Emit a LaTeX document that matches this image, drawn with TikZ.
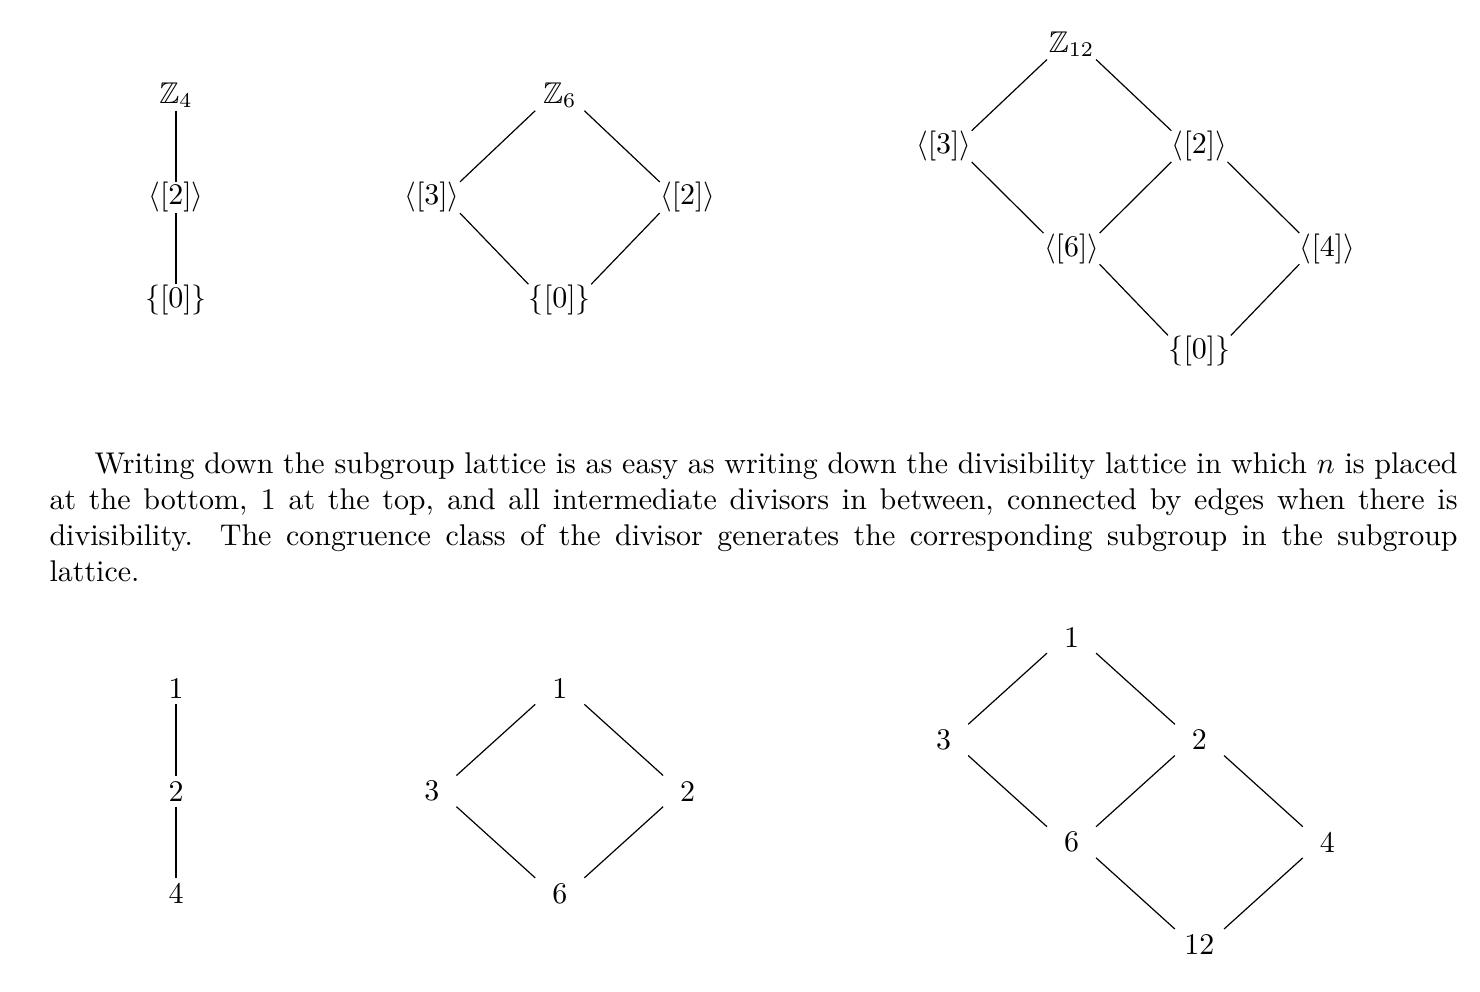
\documentclass[tikz,border=0pt]{standalone}
\usepackage{amsmath, amssymb}
\usepackage{tikz}
\usetikzlibrary{calc,positioning}

\begin{document}
\begin{tikzpicture}[x=1.5cm,y=1.2cm]

\tikzset{latnode/.style={inner sep=0pt,minimum width=16pt,minimum height=10pt},
textnode/.style={inner sep=0pt,text width=6.5in,align=justify}}

\useasboundingbox (-1.3758,1.9297) rectangle (10.193,-7.7626);

% Subgroup lattice of Z4
\node[latnode] (four) at (0,1) {$\mathbb{Z}_4$};
\node[latnode] (four2) at ($(four) + (0,-1)$) {$\langle[2]\rangle$};
\node[latnode] (four0) at ($(four2) + (0,-1)$) {$\{[0]\}$};
\draw (four.south) -- (four2.north);
\draw (four2.south) -- (four0.north);

% Subgroup lattice of Z6
\node[latnode] (six) at (3,1) {$\mathbb{Z}_6$};
\node[latnode] (six3) at ($(six) + (-1,-1)$) {$\langle[3]\rangle$};
\node[latnode] (six2) at ($(six) + (1,-1)$) {$\langle[2]\rangle$};
\node[latnode] (six0) at ($(six) + (0,-2)$) {$\{[0]\}$};
\foreach \a/\b in {six/six3,six2/six0} \draw (\a.south west) -- (\b.north east);
\foreach \a/\b in {six/six2,six3/six0} \draw (\a.south east) -- (\b.north west);

% Subgroup lattice of Z12
\node[latnode] (tw) at (7,1.5) {$\mathbb{Z}_{12}$};
\node[latnode] (tw3) at ($(tw) + (-1,-1)$) {$\langle[3]\rangle$};
\node[latnode] (tw2) at ($(tw) + (1,-1)$) {$\langle[2]\rangle$};
\node[latnode] (tw6) at ($(tw) + (0,-2)$) {$\langle[6]\rangle$};
\node[latnode] (tw4) at ($(tw) + (2,-2)$) {$\langle[4]\rangle$};
\node[latnode] (tw0) at ($(tw) + (1,-3)$) {$\{[0]\}$};
\foreach \a/\b in {tw/tw3,tw2/tw6,tw4/tw0} \draw (\a.south west) -- (\b.north east);
\foreach \a/\b in {tw/tw2,tw3/tw6,tw2/tw4,tw6/tw0} \draw (\a.south east) -- (\b.north west);

% Text
\node[textnode,anchor=base west] (para) at (-0.993,-2.695) {\hspace*{15pt}Writing down the subgroup lattice is as easy as writing down the divisibility lattice in which $n$ is placed at the bottom, 1 at the top, and all intermediate divisors in between, connected by edges when there is divisibility.  The congruence class of the divisor generates the corresponding subgroup in the subgroup lattice.};

% Divisibility lattice of 4
\node[latnode] (e1) at (0,-4.8) {1};
\node[latnode] (e2) at ($(e1) + (0,-1)$) {2};
\node[latnode] (e4) at ($(e2) + (0,-1)$) {4};
\draw (e1.south) -- (e2.north);
\draw (e2.south) -- (e4.north);

% Divisibility lattice of 6
\node[latnode] (f1) at (3,-4.8) {1};
\node[latnode] (f3) at ($(f1) + (-1,-1)$) {3};
\node[latnode] (f2) at ($(f1) + (1,-1)$) {2};
\node[latnode] (f6) at ($(f1) + (0,-2)$) {6};
\foreach \a/\b in {f1/f3,f2/f6} \draw (\a.south west) -- (\b.north east);
\foreach \a/\b in {f1/f2,f3/f6} \draw (\a.south east) -- (\b.north west);

% Divisibility lattice of 12
\node[latnode] (h1) at (7,-4.3) {1};
\node[latnode] (h3) at ($(h1) + (-1,-1)$) {3};
\node[latnode] (h2) at ($(h1) + (1,-1)$) {2};
\node[latnode] (h6) at ($(h1) + (0,-2)$) {6};
\node[latnode] (h4) at ($(h1) + (2,-2)$) {4};
\node[latnode] (h12) at ($(h1) + (1,-3)$) {12};
\foreach \a/\b in {h1/h3,h2/h6,h4/h12} \draw (\a.south west) -- (\b.north east);
\foreach \a/\b in {h1/h2,h3/h6,h2/h4,h6/h12} \draw (\a.south east) -- (\b.north west);

\end{tikzpicture}
\end{document}
